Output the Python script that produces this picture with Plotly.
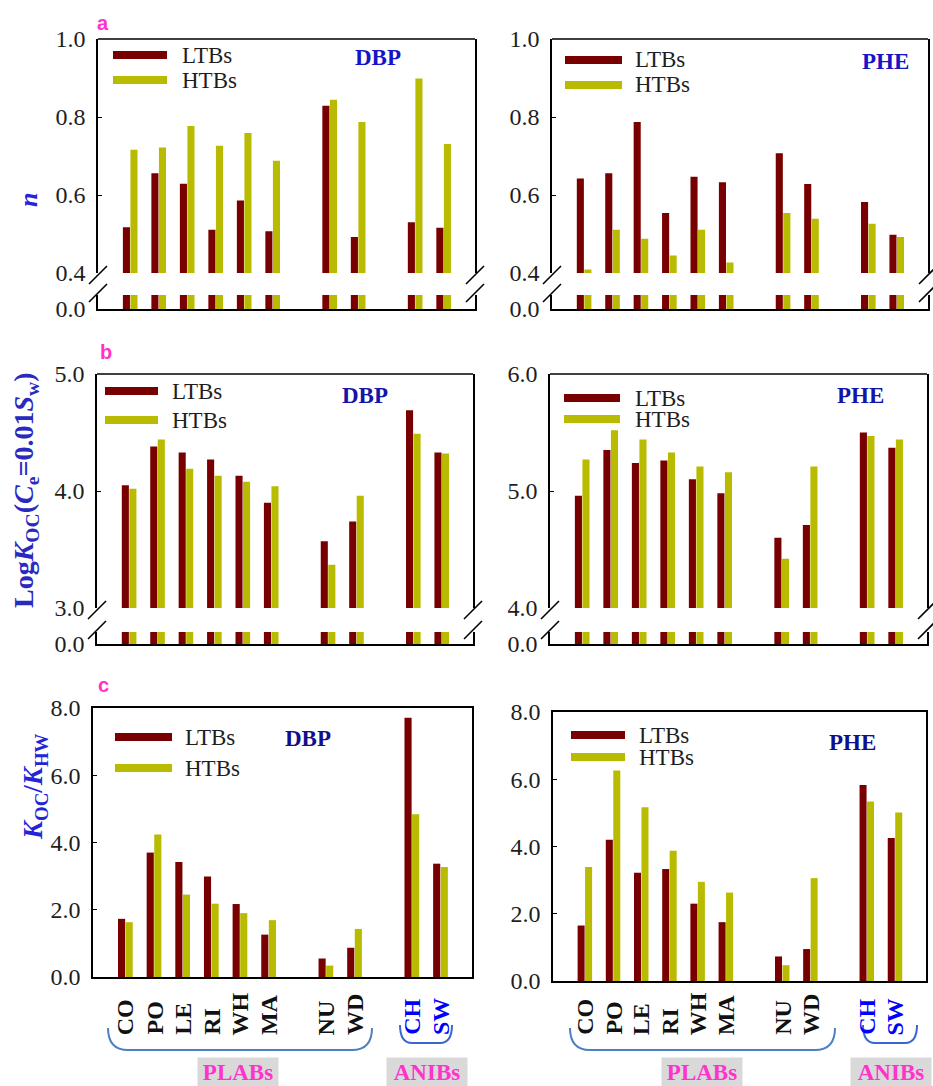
import plotly.graph_objects as go

W, H = 933, 1086

# ---------------- data ----------------
categories = ["CO", "PO", "LE", "RI", "WH", "MA", "NU", "WD", "CH", "SW"]
# category order with two empty spacer slots between groups
cat_order = ["CO", "PO", "LE", "RI", "WH", "MA", " ", "NU", "WD", "  ", "CH", "SW"]
anib_set = ["CH", "SW"]

n_dbp_ltb = [0.517, 0.656, 0.629, 0.511, 0.586, 0.507, 0.829, 0.492, 0.530, 0.516]
n_dbp_htb = [0.716, 0.722, 0.777, 0.726, 0.759, 0.688, 0.844, 0.787, 0.899, 0.731]
n_phe_ltb = [0.642, 0.656, 0.787, 0.554, 0.647, 0.633, 0.707, 0.628, 0.582, 0.498]
n_phe_htb = [0.409, 0.511, 0.488, 0.445, 0.511, 0.427, 0.554, 0.539, 0.526, 0.492]

logkoc_dbp_ltb = [4.05, 4.38, 4.33, 4.27, 4.13, 3.90, 3.57, 3.74, 4.69, 4.33]
logkoc_dbp_htb = [4.02, 4.44, 4.19, 4.13, 4.08, 4.04, 3.37, 3.96, 4.49, 4.32]
logkoc_phe_ltb = [4.96, 5.35, 5.24, 5.26, 5.10, 4.98, 4.60, 4.71, 5.50, 5.37]
logkoc_phe_htb = [5.27, 5.52, 5.44, 5.33, 5.21, 5.16, 4.42, 5.21, 5.47, 5.44]

ratio_dbp_ltb = [1.73, 3.70, 3.42, 2.99, 2.17, 1.26, 0.55, 0.87, 7.71, 3.37]
ratio_dbp_htb = [1.63, 4.24, 2.45, 2.18, 1.90, 1.69, 0.34, 1.43, 4.84, 3.27]
ratio_phe_ltb = [1.65, 4.20, 3.22, 3.33, 2.30, 1.75, 0.73, 0.95, 5.83, 4.25]
ratio_phe_htb = [3.39, 6.26, 5.17, 3.87, 2.95, 2.63, 0.47, 3.06, 5.34, 5.01]

# ---------------- style ----------------
LTB_COLOR = "#780000"
HTB_COLOR = "#b9bb00"
SERIF = "Liberation Serif, Times New Roman, serif"
TXT = "#1e1e1e"


def X(px):
    return px / W


def Y(py):
    return 1 - py / H


panels = [
    dict(x=(98, 475), up=(39, 273), low=(295, 309), rng=[0.4, 1.0], lowrng=[0, 0.05],
         ticks=[0.4, 0.6, 0.8, 1.0], ltb=n_dbp_ltb, htb=n_dbp_htb, name="DBP",
         name_pos=(378, 58), name_col="#1414c8", leg=(113, 167, 55, 80, 180)),
    dict(x=(552, 928), up=(39, 273), low=(295, 309), rng=[0.4, 1.0], lowrng=[0, 0.05],
         ticks=[0.4, 0.6, 0.8, 1.0], ltb=n_phe_ltb, htb=n_phe_htb, name="PHE",
         name_pos=(885, 62), name_col="#1414c8", leg=(565, 622, 60, 85, 633)),
    dict(x=(97, 473), up=(374, 608), low=(632, 644), rng=[3.0, 5.0], lowrng=[0, 0.1],
         ticks=[3.0, 4.0, 5.0], ltb=logkoc_dbp_ltb, htb=logkoc_dbp_htb, name="DBP",
         name_pos=(365, 395), name_col="#1414a8", leg=(105, 158, 391, 420, 170)),
    dict(x=(550, 927), up=(374, 608), low=(632, 644), rng=[4.0, 6.0], lowrng=[0, 0.1],
         ticks=[4.0, 5.0, 6.0], ltb=logkoc_phe_ltb, htb=logkoc_phe_htb, name="PHE",
         name_pos=(860, 395), name_col="#1414a8", leg=(564, 620, 398, 419, 633)),
    dict(x=(93, 472), up=(708, 977), low=None, rng=[0, 8.0], lowrng=None,
         ticks=[0, 2, 4, 6, 8], ltb=ratio_dbp_ltb, htb=ratio_dbp_htb, name="DBP",
         name_pos=(308, 738), name_col="#10108c", leg=(115, 172, 737, 768, 183)),
    dict(x=(553, 926), up=(712, 981), low=None, rng=[0, 8.0], lowrng=None,
         ticks=[0, 2, 4, 6, 8], ltb=ratio_phe_ltb, htb=ratio_phe_htb, name="PHE",
         name_pos=(852, 742), name_col="#10108c", leg=(571, 625, 735, 757, 637)),
]

fig = go.Figure()
layout = dict(
    width=W, height=H, autosize=False,
    margin=dict(l=0, r=0, t=0, b=0, pad=0),
    paper_bgcolor="white", plot_bgcolor="white",
    barmode="group", bargap=0.47, bargroupgap=0.06,
    showlegend=False,
    font=dict(family=SERIF, color=TXT),
)
shapes = []
annotations = []

tickfont = dict(family=SERIF, size=24, color=TXT)
LINE_W = 1.6

yi = 0
for pi, p in enumerate(panels):
    xi = pi + 1
    xname = "x" if xi == 1 else f"x{xi}"
    xkey = "xaxis" if xi == 1 else f"xaxis{xi}"
    yi += 1
    yup = "y" if yi == 1 else f"y{yi}"
    yupkey = "yaxis" if yi == 1 else f"yaxis{yi}"
    ylow = None
    if p["low"] is not None:
        yi += 1
        ylow = f"y{yi}"
        ylowkey = f"yaxis{yi}"

    anchor_y = ylow if ylow else yup
    layout[xkey] = dict(
        domain=[X(p["x"][0]), X(p["x"][1])], anchor=anchor_y,
        type="category", categoryorder="array", categoryarray=cat_order,
        range=[-1.13, 12.1], showline=True, linecolor="black", linewidth=LINE_W,
        mirror=(ylow is None), ticks="", showticklabels=False, showgrid=False, zeroline=False,
        automargin=False,
    )
    layout[yupkey] = dict(
        domain=[Y(p["up"][1]), Y(p["up"][0])], anchor=xname, range=p["rng"],
        showline=True, linecolor="black", linewidth=LINE_W, mirror=True,
        ticks="inside", ticklen=4, tickcolor="black", tickvals=p["ticks"], tickformat=".1f",
        tickfont=tickfont, showgrid=False, zeroline=False, ticklabelstandoff=6,
        automargin=False,
    )
    yrefs = [yup]
    if ylow:
        layout[ylowkey] = dict(
            domain=[Y(p["low"][1]), Y(p["low"][0])], anchor=xname, range=p["lowrng"],
            showline=True, linecolor="black", linewidth=LINE_W, mirror=True,
            ticks="", tickvals=[0], tickformat=".1f", tickfont=tickfont,
            showgrid=False, zeroline=False, ticklabelstandoff=6, automargin=False,
        )
        yrefs.append(ylow)

    for yr in yrefs:
        fig.add_trace(go.Bar(x=categories, y=p["ltb"], name="LTBs", marker_color=LTB_COLOR,
                             marker_line_width=0, xaxis=xname, yaxis=yr, offsetgroup="L"))
        fig.add_trace(go.Bar(x=categories, y=p["htb"], name="HTBs", marker_color=HTB_COLOR,
                             marker_line_width=0, xaxis=xname, yaxis=yr, offsetgroup="H"))

    if ylow:
        # top frame line of the broken panel
        shapes.append(dict(type="line", xref=f"{xname} domain", yref=f"{yup} domain",
                           x0=0, x1=1, y0=1, y1=1, line=dict(color="black", width=LINE_W)))
        # axis-break slashes on both spines
        for xs in p["x"]:
            for yc in (p["up"][1] + 2, p["low"][0] - 2):
                shapes.append(dict(type="line", xref="paper", yref="paper",
                                   x0=X(xs - 9), y0=Y(yc + 9), x1=X(xs + 9), y1=Y(yc - 9),
                                   line=dict(color="black", width=LINE_W)))

    # custom legend (thick line swatches)
    lx0, lx1, ly1, ly2, tx = p["leg"]
    for ly, col, lab in ((ly1, LTB_COLOR, "LTBs"), (ly2, HTB_COLOR, "HTBs")):
        shapes.append(dict(type="line", xref="paper", yref="paper",
                           x0=X(lx0), x1=X(lx1), y0=Y(ly), y1=Y(ly),
                           line=dict(color=col, width=8)))
        annotations.append(dict(text=lab, xref="paper", yref="paper", x=X(tx), y=Y(ly),
                                xanchor="left", yanchor="middle", showarrow=False,
                                font=dict(family=SERIF, size=23, color=TXT)))
    # compound name
    annotations.append(dict(text=f"<b>{p['name']}</b>", xref="paper", yref="paper",
                            x=X(p["name_pos"][0]), y=Y(p["name_pos"][1]),
                            xanchor="center", yanchor="middle", showarrow=False,
                            font=dict(family=SERIF, size=23, color=p["name_col"])))

    # rotated category labels under bottom panels
    if p["low"] is None:
        for c in categories:
            col = "#0000ff" if c in anib_set else "#111111"
            annotations.append(dict(text=f"<b>{c}</b>", xref=xname, yref="paper",
                                    x=c, y=Y(1037), xanchor="center", yanchor="bottom",
                                    textangle=-90, showarrow=False,
                                    font=dict(family=SERIF, size=24, color=col)))


# brackets
def bracket(x0, x1, ytop, ybot, r, color):
    path = (f"M {X(x0)},{Y(ytop)} Q {X(x0)},{Y(ybot)} {X(x0 + r)},{Y(ybot)} "
            f"L {X(x1 - r)},{Y(ybot)} Q {X(x1)},{Y(ybot)} {X(x1)},{Y(ytop)}")
    return dict(type="path", xref="paper", yref="paper", path=path,
                line=dict(color=color, width=2))


shapes.append(bracket(108, 372, 1028, 1050, 20, "#4f7fc0"))
shapes.append(bracket(400, 452, 1025, 1043, 12, "#3a66d0"))
shapes.append(bracket(570, 835, 1028, 1050, 20, "#4f7fc0"))
shapes.append(bracket(863, 917, 1025, 1043, 12, "#3a66d0"))

for cx, lab in ((238, "PLABs"), (427, "ANIBs"), (702, "PLABs"), (891, "ANIBs")):
    annotations.append(dict(text=f"<b>{lab}</b>", xref="paper", yref="paper",
                            x=X(cx), y=Y(1072), xanchor="center", yanchor="middle",
                            showarrow=False, bgcolor="#d9d9d9", width=80, height=28,
                            borderpad=0, font=dict(family=SERIF, size=23, color="#ff33cc")))

# panel letters
for lx, ly, lab in ((103, 23, "a"), (106, 352, "b"), (103, 685, "c")):
    annotations.append(dict(text=f"<b>{lab}</b>", xref="paper", yref="paper",
                            x=X(lx), y=Y(ly), xanchor="center", yanchor="middle",
                            showarrow=False,
                            font=dict(family="Liberation Sans", size=20, color="#ff33cc")))

# y-axis titles
YT = "#2424d8"
annotations.append(dict(text="<b><i>n</i></b>", xref="paper", yref="paper", x=X(29), y=Y(200),
                        xanchor="center", yanchor="middle", textangle=-90, showarrow=False,
                        font=dict(family=SERIF, size=26, color=YT)))
annotations.append(dict(text="<b>Log<i>K</i><sub>OC</sub>(<i>C</i><sub>e</sub>=0.01<i>S</i><sub>w</sub>)</b>",
                        xref="paper", yref="paper", x=X(25), y=Y(490),
                        xanchor="center", yanchor="middle", textangle=-90, showarrow=False,
                        font=dict(family=SERIF, size=28, color="#2a2ac0")))
annotations.append(dict(text="<b><i>K</i><sub>OC</sub>/<i>K</i><sub>HW</sub></b>",
                        xref="paper", yref="paper", x=X(35), y=Y(787),
                        xanchor="center", yanchor="middle", textangle=-90, showarrow=False,
                        font=dict(family=SERIF, size=27, color=YT)))

layout["shapes"] = shapes
layout["annotations"] = annotations
fig.update_layout(**layout)
fig.write_html(
    "out.html",
    config={"displayModeBar": False},
    post_script="document.body.style.margin='0';document.body.style.overflow='hidden';",
)
